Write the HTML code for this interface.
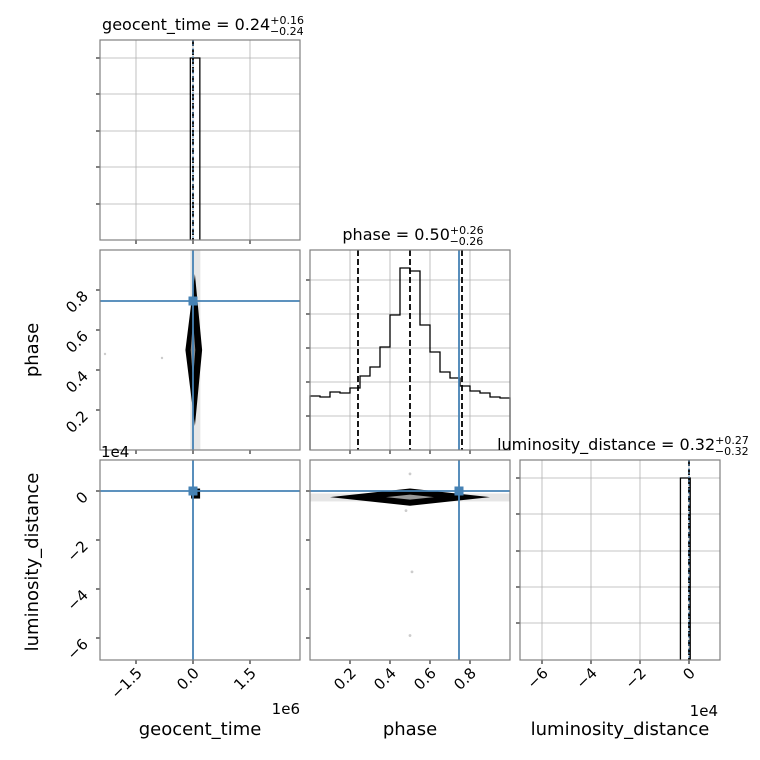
<!DOCTYPE html>
<html><head><meta charset="utf-8"><style>
html,body{margin:0;padding:0;background:#fff;}
svg{display:block;font-family:"DejaVu Sans","Liberation Sans",sans-serif;}
</style></head><body>
<svg id="c" width="760" height="760" viewBox="0 0 760 760" xmlns="http://www.w3.org/2000/svg"></svg>
<script>
// ---- data ----
const phaseBinEdges = [0,0.05,0.1,0.15,0.2,0.25,0.3,0.35,0.4,0.45,0.5,0.55,0.6,0.65,0.7,0.75,0.8,0.85,0.9,0.95,1.0];
const phaseCounts = [54,53,58,57,62,74,83,103,135,182,179,125,98,78,72,64,59,57,53,52];
const phaseQuantiles = [0.24,0.50,0.76];
const phaseTruth = 0.745;
const geoBinEdges = [-0.07e6,0.18e6];
const geoCounts = [100];
const geoQuantiles = [0.0];
const geoTruth = 0.0;
const lumBinEdges = [-0.35e4,0.05e4];
const lumCounts = [100];
const lumQuantiles = [0.0];
const lumTruth = 0.0;
const geoTicks = [-1.5e6,0,1.5e6], geoTickLabels = ["\u22121.5","0.0","1.5"];
const phaseTicks = [0.2,0.4,0.6,0.8], phaseTickLabels = ["0.2","0.4","0.6","0.8"];
const lumTicks = [0,-2e4,-4e4,-6e4], lumTickLabels = ["0","\u22122","\u22124","\u22126"];

const svg = document.getElementById('c');
const NS = 'http://www.w3.org/2000/svg';
function mk(tag, attrs, parent){const e=document.createElementNS(NS,tag);for(const k in attrs)e.setAttribute(k,attrs[k]);(parent||svg).appendChild(e);return e;}
function txt(s, attrs, name){const e=mk('text',attrs);e.textContent=s;return e;}

const geoX = v => 193 + v/1.5e6*57;
const phX = v => 310 + v*200;
const lumX = v => 689 + v/2e4*49;
const phY = v => 450 - v*200;
const lumY = v => 491 - v/2e4*49;
const cols = [[100,300],[310,510],[520,720]];
const rows = [[40,240],[250,450],[460,660]];
const BLUE = '#4682b4';

function panel(c,r,name){
  const [x0,x1]=cols[c],[y0,y1]=rows[r];
  const g=mk('g',{});
  return {g,x0,x1,y0,y1};
}
function frame(p){mk('rect',{x:p.x0,y:p.y0,width:p.x1-p.x0,height:p.y1-p.y0,fill:'none',stroke:'#808080','stroke-width':1.2},p.g);}
function grid(p,xs,ys,noGrid){
  xs.forEach(x=>{if(!noGrid)mk('line',{x1:x,x2:x,y1:p.y0,y2:p.y1,stroke:'#b0b0b0','stroke-width':0.8},p.g);mk('line',{x1:x,x2:x,y1:p.y1,y2:p.y1+4,stroke:'#000','stroke-width':1},p.g);});
  ys.forEach(y=>{if(!noGrid)mk('line',{x1:p.x0,x2:p.x1,y1:y,y2:y,stroke:'#b0b0b0','stroke-width':0.8},p.g);mk('line',{x1:p.x0-4,x2:p.x0,y1:y,y2:y,stroke:'#000','stroke-width':1},p.g);});
}
function hist(p,edges,counts,sx,ymax,name){
  const sy=v=>p.y1-v/ymax*(p.y1-p.y0);
  let d='M'+sx(edges[0])+','+p.y1;
  counts.forEach((c,i)=>{d+=' L'+sx(edges[i])+','+sy(c)+' L'+sx(edges[i+1])+','+sy(c);});
  d+=' L'+sx(edges[edges.length-1])+','+p.y1;
  const e=mk('path',{d,fill:'none',stroke:'#000','stroke-width':1.3},p.g);
  
  
}
function vdash(p,x){mk('line',{x1:x,x2:x,y1:p.y0,y2:p.y1,stroke:'#000','stroke-width':1.8,'stroke-dasharray':'6,3'},p.g);}
function vline(p,x){mk('line',{x1:x,x2:x,y1:p.y0,y2:p.y1,stroke:BLUE,'stroke-width':1.8},p.g);}
function hline(p,y){mk('line',{x1:p.x0,x2:p.x1,y1:y,y2:y,stroke:BLUE,'stroke-width':1.8},p.g);}

// Panel 1
let p=panel(0,0,'geocent-time-histogram');
grid(p,geoTicks.map(geoX),[58,94,131,167,204]);
hist(p,geoBinEdges,geoCounts,geoX,100*200/182,'geocent-hist-bars');
geoQuantiles.forEach(q=>vdash(p,geoX(q)));
mk('line',{x1:geoX(geoTruth),x2:geoX(geoTruth),y1:p.y0,y2:p.y1,stroke:BLUE,'stroke-width':1,'stroke-dasharray':'2,2'},p.g);
frame(p);

// Panel 2
p=panel(0,1,'phase-vs-geocent-2d');
mk('rect',{x:geoX(-0.07e6),y:p.y0,width:10,height:200,fill:'#e6e6e6'},p.g);
mk('path',{d:`M${geoX(0.05e6)},${phY(0.88)} L${geoX(0.24e6)},${phY(0.5)} L${geoX(0.05e6)},${phY(0.12)} L${geoX(-0.2e6)},${phY(0.5)} Z`,fill:'#000'},p.g);
mk('path',{d:`M${geoX(0)},${phY(0.65)} L${geoX(0.06e6)},${phY(0.5)} L${geoX(0)},${phY(0.35)} L${geoX(-0.06e6)},${phY(0.5)} Z`,fill:'#888'},p.g);
mk('circle',{cx:105,cy:354,r:1.2,fill:'#ccc'},p.g);mk('circle',{cx:162,cy:358,r:1.2,fill:'#ccc'},p.g);
vline(p,geoX(geoTruth));hline(p,phY(phaseTruth));
mk('rect',{x:geoX(geoTruth)-4.5,y:phY(phaseTruth)-4.5,width:9,height:9,fill:BLUE},p.g);
grid(p,geoTicks.map(geoX),phaseTicks.map(phY),true);
frame(p);

// Panel 3
p=panel(1,1,'phase-histogram');
grid(p,phaseTicks.map(phX),[280,314,348,382,416]);
hist(p,phaseBinEdges,phaseCounts,phX,200,'phase-hist-bars');
phaseQuantiles.forEach(q=>vdash(p,phX(q)));
vline(p,phX(phaseTruth));
frame(p);

// Panel 4
p=panel(0,2,'lum-vs-geocent-2d');
mk('rect',{x:geoX(-0.05e6),y:lumY(0.1e4),width:9,height:10,fill:'#000'},p.g);
vline(p,geoX(geoTruth));hline(p,lumY(lumTruth));
mk('rect',{x:geoX(geoTruth)-4.5,y:lumY(lumTruth)-4.5,width:9,height:9,fill:BLUE},p.g);
grid(p,geoTicks.map(geoX),lumTicks.map(lumY),true);
frame(p);

// Panel 5
p=panel(1,2,'lum-vs-phase-2d');
mk('rect',{x:p.x0,y:lumY(-0.1e4),width:200,height:8,fill:'#e6e6e6'},p.g);
mk('path',{d:`M${phX(0.1)},${lumY(-0.25e4)} L${phX(0.5)},${lumY(0.1e4)} L${phX(0.9)},${lumY(-0.25e4)} L${phX(0.5)},${lumY(-0.6e4)} Z`,fill:'#000'},p.g);
mk('path',{d:`M${phX(0.38)},${lumY(-0.25e4)} L${phX(0.5)},${lumY(-0.15e4)} L${phX(0.62)},${lumY(-0.25e4)} L${phX(0.5)},${lumY(-0.35e4)} Z`,fill:'#999'},p.g);
[[0.51,-3.3e4],[0.5,-5.9e4],[0.5,0.7e4],[0.48,-0.8e4]].forEach(([a,b])=>mk('circle',{cx:phX(a),cy:lumY(b),r:1.4,fill:'#ccc'},p.g));
vline(p,phX(phaseTruth));hline(p,lumY(lumTruth));
mk('rect',{x:phX(phaseTruth)-4.5,y:lumY(lumTruth)-4.5,width:9,height:9,fill:BLUE},p.g);
grid(p,phaseTicks.map(phX),lumTicks.map(lumY),true);
frame(p);

// Panel 6
p=panel(2,2,'luminosity-distance-histogram');
grid(p,lumTicks.map(lumX),[478,514,551,587,623]);
hist(p,lumBinEdges,lumCounts,lumX,100*200/182,'lum-hist-bars');
lumQuantiles.forEach(q=>vdash(p,lumX(q)));
mk('line',{x1:lumX(lumTruth),x2:lumX(lumTruth),y1:p.y0,y2:p.y1,stroke:BLUE,'stroke-width':1,'stroke-dasharray':'2,2'},p.g);
frame(p);

// tick labels
function rotLabel(s,x,y,name){txt(s,{x,y,'font-size':15,'text-anchor':'end',transform:`rotate(-45 ${x} ${y})`},name);}
geoTicks.forEach((v,i)=>rotLabel(geoTickLabels[i],geoX(v)+7,674,'geocent-x-tick'));
phaseTicks.forEach((v,i)=>rotLabel(phaseTickLabels[i],phX(v)+7,674,'phase-x-tick'));
lumTicks.forEach((v,i)=>rotLabel(lumTickLabels[i],lumX(v)+7,674,'lum-x-tick'));
phaseTicks.forEach((v,i)=>rotLabel(phaseTickLabels[i],89,phY(v)+7,'phase-y-tick'));
lumTicks.forEach((v,i)=>rotLabel(lumTickLabels[i],89,lumY(v)+7,'lum-y-tick'));

// axis labels
txt('geocent_time',{x:200,y:735,'font-size':18,'text-anchor':'middle'},'geocent-x-label');
txt('phase',{x:410,y:735,'font-size':18,'text-anchor':'middle'},'phase-x-label');
txt('luminosity_distance',{x:620,y:735,'font-size':18,'text-anchor':'middle'},'lum-x-label');
txt('phase',{x:38,y:350,'font-size':18,'text-anchor':'middle',transform:'rotate(-90 38 350)'},'phase-y-label');
txt('luminosity_distance',{x:38,y:562,'font-size':18,'text-anchor':'middle',transform:'rotate(-90 38 562)'},'lum-y-label');
txt('1e6',{x:300,y:714,'font-size':15,'text-anchor':'end'},'geocent-offset');
txt('1e4',{x:718,y:716,'font-size':15,'text-anchor':'end'},'lum-x-offset');
txt('1e4',{x:101,y:457,'font-size':15},'lum-y-offset');

// titles
function title(x,y,main,up,lo,name){
  const t=mk('text',{x,y,'font-size':16,'text-anchor':'middle'});
  
  
  const a=mk('tspan',{},t);a.textContent=main;
  const b=mk('tspan',{dy:-6,'font-size':11},t);b.textContent=up;
  const c=mk('tspan',{dx:-34,dy:11,'font-size':11},t);c.textContent=lo;
}
title(203,30,'geocent_time = 0.24','+0.16','\u22120.24','geocent-title');
title(413,240,'phase = 0.50','+0.26','\u22120.26','phase-title');
title(623,450,'luminosity_distance = 0.32','+0.27','\u22120.32','lum-title');
</script>
</body></html>
